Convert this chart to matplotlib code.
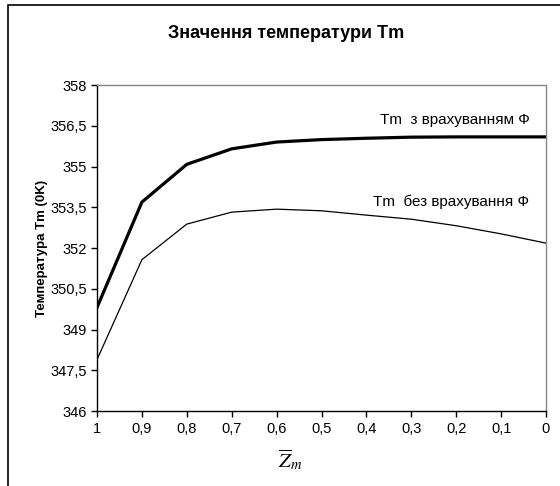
import matplotlib
matplotlib.use("Agg")
import matplotlib.pyplot as plt
from matplotlib.patches import Rectangle

plt.rcParams['font.family'] = ['Liberation Sans', 'DejaVu Sans']
plt.rcParams['mathtext.fontset'] = 'stix'

x_labels = ["1", "0,9", "0,8", "0,7", "0,6", "0,5", "0,4", "0,3", "0,2", "0,1", "0"]
tm_with_phi = [349.81, 353.69, 355.08, 355.65, 355.90, 355.99, 356.04, 356.08, 356.09, 356.09, 356.09]
tm_without_phi = [347.89, 351.57, 352.88, 353.32, 353.43, 353.37, 353.21, 353.06, 352.82, 352.52, 352.18]
y_ticks = [346, 347.5, 349, 350.5, 352, 353.5, 355, 356.5, 358]

fig = plt.figure(figsize=(5.6, 4.86), dpi=100)
ax = fig.add_axes([97/560, 1 - 411/486, (546 - 97)/560, (411 - 85)/486])

idx = list(range(len(x_labels)))
ax.plot(idx, tm_with_phi, color="black", lw=2.3, solid_joinstyle="round")
ax.plot(idx, tm_without_phi, color="black", lw=0.9)

ax.set_xlim(0, len(x_labels) - 1)
ax.set_ylim(346, 358)
ax.set_xticks(idx)
ax.set_xticklabels(x_labels, fontsize=10.5)
ax.set_yticks(y_ticks)
ax.set_yticklabels([f"{v:g}".replace(".", ",") for v in y_ticks], fontsize=10.5)
ax.tick_params(direction="out", length=4, width=1)
ax.tick_params(axis="x", pad=4)
ax.tick_params(axis="y", pad=3)

for s in ["top", "right"]:
    ax.spines[s].set_color("#888888")
    ax.spines[s].set_linewidth(1)
for s in ["left", "bottom"]:
    ax.spines[s].set_color("black")
    ax.spines[s].set_linewidth(1)

ax.text(0.963, 0.893, "Tm  з врахуванням Ф", transform=ax.transAxes,
        ha="right", va="center", fontsize=11)
ax.text(0.963, 0.641, "Tm  без врахування Ф", transform=ax.transAxes,
        ha="right", va="center", fontsize=11)

ax.set_ylabel("Температура Tm (0K)", fontsize=9.5, fontweight="bold", labelpad=2)
fig.text(286/560, 1 - 33/486, "Значення температури Tm", ha="center", va="center",
         fontsize=13, fontweight="bold")
fig.text(290/560, 1 - 460/486, r"$\overline{Z}_m$", ha="center", va="center", fontsize=15)

# outer chart frame (right and bottom cut off in the original)
fig.patches.append(Rectangle((8/560, -0.1), 1.2, 1.1 - 5/486, transform=fig.transFigure,
                             fill=False, edgecolor="black", lw=1.2))

fig.savefig("out.png", dpi=100)
